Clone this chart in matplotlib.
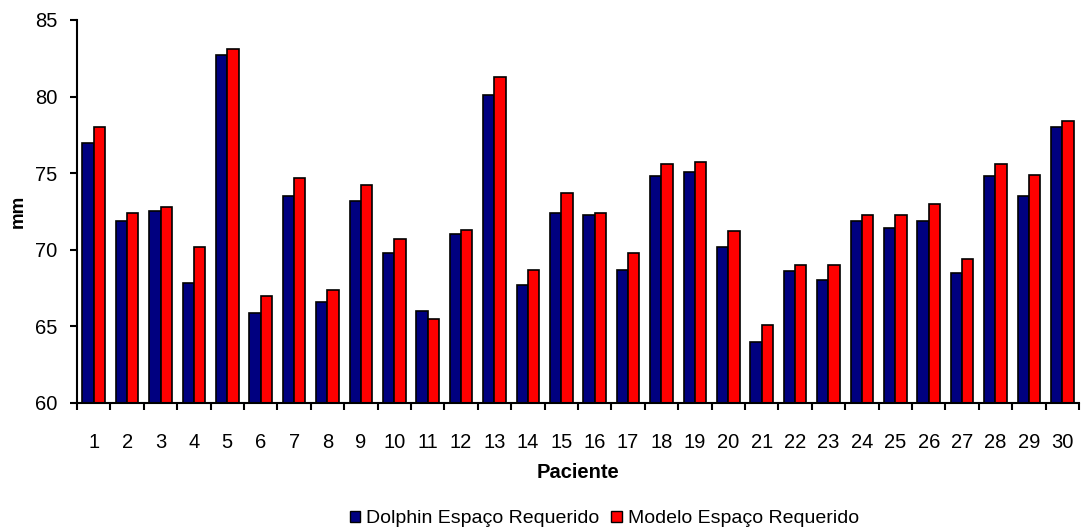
import numpy as np
import matplotlib.pyplot as plt
from matplotlib.patches import Patch

plt.rcParams['font.family'] = ['Liberation Sans', 'DejaVu Sans']

# Data
pacientes = [str(i) for i in range(1, 31)]
dolphin = [77.0, 71.9, 72.5, 67.8, 82.7, 65.9, 73.5, 66.6, 73.2, 69.8,
           66.0, 71.0, 80.1, 67.7, 72.4, 72.3, 68.7, 74.8, 75.1, 70.2,
           64.0, 68.6, 68.0, 71.9, 71.4, 71.9, 68.5, 74.8, 73.5, 78.0]
modelo = [78.0, 72.4, 72.8, 70.2, 83.1, 67.0, 74.7, 67.4, 74.2, 70.7,
          65.5, 71.3, 81.3, 68.7, 73.7, 72.4, 69.8, 75.6, 75.7, 71.2,
          65.1, 69.0, 69.0, 72.3, 72.3, 73.0, 69.4, 75.6, 74.9, 78.4]

x = np.arange(len(pacientes))
w = 0.34

fig = plt.figure(figsize=(10.83, 5.29), dpi=100)
ax = fig.add_axes([0.0711, 0.2382, 0.9252, 0.724])

ax.bar(x - w / 2, dolphin, w, color="#000080", edgecolor="black", linewidth=1.2)
ax.bar(x + w / 2, modelo, w, color="#FF0000", edgecolor="black", linewidth=1.2)

ax.set_ylim(60, 85)
ax.set_xlim(-0.5, len(pacientes) - 0.5)
ax.set_yticks([60, 65, 70, 75, 80, 85])

ax.set_xticks(x)
ax.set_xticklabels(pacientes)
ax.set_xticks(np.arange(-0.5, len(pacientes)), minor=True)
ax.tick_params(axis="x", which="major", length=0, pad=21.5, labelsize=14.5)
ax.tick_params(axis="x", which="minor", length=5, width=1.5, direction="out")
ax.tick_params(axis="y", length=5, width=1.5, direction="out", pad=9, labelsize=14.5)

for side in ["top", "right"]:
    ax.spines[side].set_visible(False)
ax.spines["left"].set_linewidth(1.5)
ax.spines["bottom"].set_linewidth(1.5)

ax.set_xlabel("Paciente", fontsize=14.5, fontweight="bold", labelpad=8)
ax.set_ylabel("mm", fontsize=13.5, fontweight="bold", labelpad=6)

handles = [Patch(facecolor="#000080", edgecolor="black", label="Dolphin Espaço Requerido"),
           Patch(facecolor="#FF0000", edgecolor="black", label="Modelo Espaço Requerido")]
fig.legend(handles=handles, loc="center", bbox_to_anchor=(0.558, 0.019), ncol=2,
           frameon=False, fontsize=14, handlelength=0.55, handleheight=0.55,
           handletextpad=0.3, columnspacing=0.6)

fig.savefig("out.png", dpi=100)
